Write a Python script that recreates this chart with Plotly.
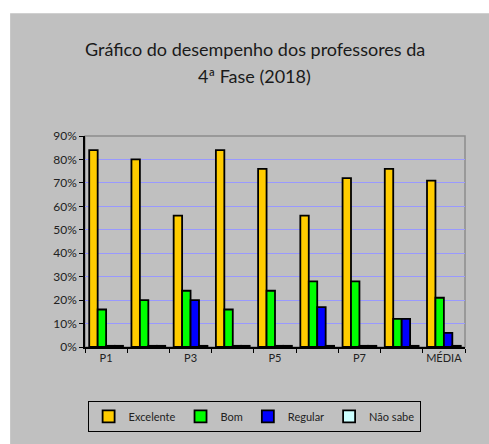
import plotly.graph_objects as go

# data
categories = ["P1", "P2", "P3", "P4", "P5", "P6", "P7", "P8", "MÉDIA"]
tick_text = ["P1", "", "P3", "", "P5", "", "P7", "", "MÉDIA"]
excelente = [84, 80, 56, 84, 76, 56, 72, 76, 71]
bom = [16, 20, 24, 16, 24, 28, 28, 12, 21]
regular = [0.5, 0.5, 20, 0.5, 0.5, 17, 0.5, 12, 6]
nao_sabe = [0.5, 0.5, 0.5, 0.5, 0.5, 0.5, 0.5, 0.5, 0.5]

series = [
    ("Excelente", excelente, "#FFCC00"),
    ("Bom", bom, "#00FF00"),
    ("Regular", regular, "#0000FF"),
    ("Não sabe", nao_sabe, "#CCFFFF"),
]

fig = go.Figure()
for name, vals, color in series:
    fig.add_trace(go.Bar(
        x=categories, y=[v / 100 for v in vals], name=name,
        marker=dict(color=color, line=dict(color="black", width=1.8)),
    ))

title_font = dict(family="Lato, DejaVu Sans, sans-serif", size=18, color="#1a1a1a")

fig.update_layout(
    width=489, height=444,
    margin=dict(l=85, r=24, t=136, b=95),
    paper_bgcolor="white",
    plot_bgcolor="#C0C0C0",
    font=dict(family="Lato, DejaVu Sans, sans-serif", color="#222"),
    barmode="group", bargap=0.2, bargroupgap=0,
    showlegend=True,
    legend=dict(
        orientation="h", x=0.445, xanchor="center", y=-0.255, yanchor="top",
        bordercolor="black", borderwidth=1, bgcolor="#C0C0C0",
        font=dict(size=11, color="#222"), itemwidth=30,
    ),
    annotations=[
        dict(text="Gráfico do desempenho dos professores da", xref="paper", yref="paper",
             x=0.447, y=(349 - 48) / 213, xanchor="center", yanchor="middle",
             showarrow=False, font=title_font),
        dict(text="4ª Fase (2018)", xref="paper", yref="paper",
             x=0.447, y=(349 - 75) / 213, xanchor="center", yanchor="middle",
             showarrow=False, font=title_font),
    ],
    shapes=[
        dict(type="rect", xref="paper", yref="paper",
             x0=-0.197, x1=1.07, y0=-0.46, y1=1.582,
             fillcolor="#C0C0C0", line=dict(width=0), layer="below"),
        dict(type="rect", xref="paper", yref="paper",
             x0=0, x1=1, y0=0, y1=1,
             line=dict(color="#8c8c8c", width=1.5), layer="below"),
    ],
)

fig.update_yaxes(
    range=[0, 0.9], dtick=0.1, tickformat=".0%",
    showgrid=True, gridcolor="#9999FF", gridwidth=1,
    showline=True, linecolor="black", linewidth=1.5,
    ticks="outside", ticklen=4, tickcolor="black",
    tickfont=dict(size=12, color="#222"), zeroline=False,
)
fig.update_xaxes(
    tickvals=categories, ticktext=tick_text, tickson="boundaries",
    tickangle=0,
    showline=True, linecolor="black", linewidth=1.5,
    ticks="outside", ticklen=4, tickcolor="black",
    tickfont=dict(size=11, color="#222"),
)

fig.write_html("out.html", config={"displayModeBar": False},
               post_script="document.body.style.margin = '0';")
